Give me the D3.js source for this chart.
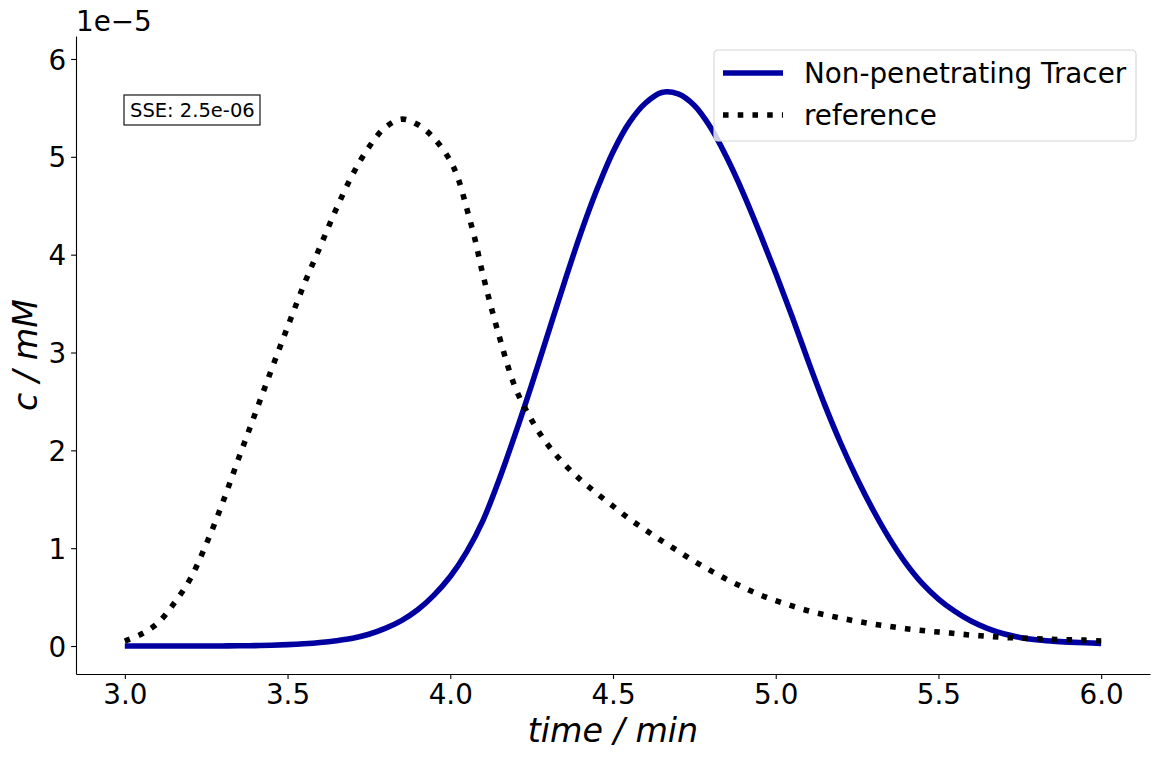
<!DOCTYPE html>
<html>
<head>
<meta charset="utf-8">
<script src="https://cdn.jsdelivr.net/npm/d3@7"></script>
<style>
  body { margin: 0; background: #fff; }
  svg text { font-family: "DejaVu Sans", sans-serif; fill: #000; }
</style>
</head>
<body>
<div id="chart"></div>
<script>
// time axis (min), values in units of 1e-5 mM
const timeTracer = [3.00,3.05,3.10,3.15,3.20,3.25,3.30,3.35,3.40,3.45,3.50,3.55,3.60,3.65,3.70,3.75,3.80,3.85,3.90,3.95,
  4.00,4.05,4.10,4.15,4.20,4.25,4.30,4.35,4.40,4.45,4.50,4.55,4.60,4.65,4.70,4.75,4.80,4.85,4.90,4.95,
  5.00,5.05,5.10,5.15,5.20,5.25,5.30,5.35,5.40,5.45,5.50,5.55,5.60,5.65,5.70,5.75,5.80,5.85,5.90,5.95,6.00];
const tracerValues = [0,0,0,0,0,0,0.001,0.002,0.004,0.008,0.014,0.023,0.036,0.055,0.08,0.12,0.18,0.26,0.37,0.52,
  0.71,0.96,1.28,1.70,2.17,2.67,3.19,3.71,4.21,4.66,5.05,5.35,5.55,5.658,5.643,5.525,5.30,4.99,4.63,4.23,
  3.81,3.37,2.91,2.47,2.07,1.71,1.385,1.095,0.845,0.64,0.48,0.355,0.255,0.18,0.125,0.088,0.064,0.05,0.04,0.033,0.027];

const timeReference = [3.00,3.05,3.10,3.15,3.20,3.25,3.30,3.35,3.40,3.45,3.50,3.55,3.60,3.65,3.70,3.75,3.80,3.85,3.90,3.95,
  4.00,4.025,4.05,4.075,4.10,4.15,4.20,4.25,4.30,4.35,4.40,4.45,4.50,4.55,4.60,4.65,4.70,4.75,4.80,4.85,4.90,4.95,
  5.00,5.05,5.10,5.15,5.20,5.25,5.30,5.35,5.40,5.45,5.50,5.55,5.60,5.65,5.70,5.75,5.80,5.85,5.90,5.95,6.00];
const referenceValues = [0.05,0.12,0.23,0.43,0.68,1.04,1.46,1.92,2.37,2.82,3.26,3.69,4.08,4.47,4.82,5.10,5.30,5.385,5.33,5.19,
  4.96,4.77,4.48,4.17,3.80,3.17,2.64,2.31,2.055,1.86,1.70,1.56,1.43,1.30,1.185,1.075,0.97,0.865,0.77,0.68,0.60,0.525,
  0.465,0.41,0.36,0.32,0.285,0.252,0.224,0.20,0.177,0.158,0.143,0.128,0.112,0.10,0.088,0.081,0.075,0.068,0.064,0.06,0.052];

const xTicks = [3.0,3.5,4.0,4.5,5.0,5.5,6.0];
const yTicks = [0,1,2,3,4,5,6];
const seriesNames = ["Non-penetrating Tracer", "reference"];
const sseLabel = "SSE: 2.5e-06";

const W = 1159, H = 760;
const margin = { top: 36, right: 9, bottom: 86, left: 76 };
const width = W - margin.left - margin.right;
const height = H - margin.top - margin.bottom;

const svg = d3.select("#chart").append("svg")
  .attr("width", W).attr("height", H);
const g = svg.append("g").attr("transform", `translate(${margin.left},${margin.top})`);

const x = d3.scaleLinear().domain([2.85, 6.15]).range([0, width]);
const y = d3.scaleLinear().domain([-0.286, 6.235]).range([height, 0]);

// axes
const xAxis = g.append("g")
  .attr("transform", `translate(0,${height})`)
  .call(d3.axisBottom(x).tickValues(xTicks).tickFormat(d3.format(".1f")).tickSize(4.9).tickSizeOuter(0).tickPadding(4.9));
const yAxis = g.append("g")
  .call(d3.axisLeft(y).tickValues(yTicks).tickFormat(d3.format("d")).tickSize(4.9).tickSizeOuter(0).tickPadding(4.9));
[xAxis, yAxis].forEach(a => {
  a.selectAll("text").style("font-size", "27.8px").style("font-family", "DejaVu Sans");
  a.selectAll("line, path").attr("stroke", "#000").attr("stroke-width", 1.1);
});
yAxis.selectAll("text").attr("dy", "0.36em");

// axis labels
g.append("text")
  .attr("x", width / 2).attr("y", height + 68)
  .attr("text-anchor", "middle")
  .style("font-size", "33.3px").style("font-style", "italic")
  .text("time / min");
g.append("text")
  .attr("transform", `translate(${-39},${height / 2}) rotate(-90)`)
  .attr("text-anchor", "middle")
  .style("font-size", "33.3px").style("font-style", "italic")
  .text("c / mM");

// offset text
svg.append("text")
  .attr("x", margin.left).attr("y", 31)
  .style("font-size", "27.8px")
  .text("1e\u22125");

// lines
const line = d3.line().curve(d3.curveCatmullRom.alpha(0.5));

g.append("path")
  .datum(timeTracer.map((t, i) => [x(t), y(tracerValues[i])]))
  .attr("fill", "none")
  .attr("stroke", "#0000a0")
  .attr("stroke-width", 5.56)
  .attr("d", line);

g.append("path")
  .datum(timeReference.map((t, i) => [x(t), y(referenceValues[i])]))
  .attr("fill", "none")
  .attr("stroke", "#000")
  .attr("stroke-width", 5.56)
  .attr("stroke-dasharray", "5.56,9.17")
  .attr("d", line);

// SSE box
const sse = svg.append("g").attr("transform", "translate(124,95)");
sse.append("rect").attr("width", 136).attr("height", 30)
  .attr("fill", "#fff").attr("stroke", "#000").attr("stroke-width", 1.1);
sse.append("text").attr("x", 6).attr("y", 22)
  .style("font-size", "19.5px")
  .text(sseLabel);

// legend
const leg = svg.append("g").attr("transform", "translate(714,50)");
leg.append("rect").attr("width", 422).attr("height", 91).attr("rx", 4)
  .attr("fill", "#fff").attr("fill-opacity", 0.8)
  .attr("stroke", "#d6d6d6").attr("stroke-width", 1.1);
leg.append("line").attr("x1", 9).attr("x2", 69).attr("y1", 23).attr("y2", 23)
  .attr("stroke", "#0000a0").attr("stroke-width", 5.56);
leg.append("line").attr("x1", 9).attr("x2", 69).attr("y1", 65).attr("y2", 65)
  .attr("stroke", "#000").attr("stroke-width", 5.56).attr("stroke-dasharray", "5.56,9.17");
seriesNames.forEach((name, i) => {
  leg.append("text").attr("x", 90).attr("y", 33 + i * 42)
    .style("font-size", "27.8px").text(name);
});
</script>
</body>
</html>
